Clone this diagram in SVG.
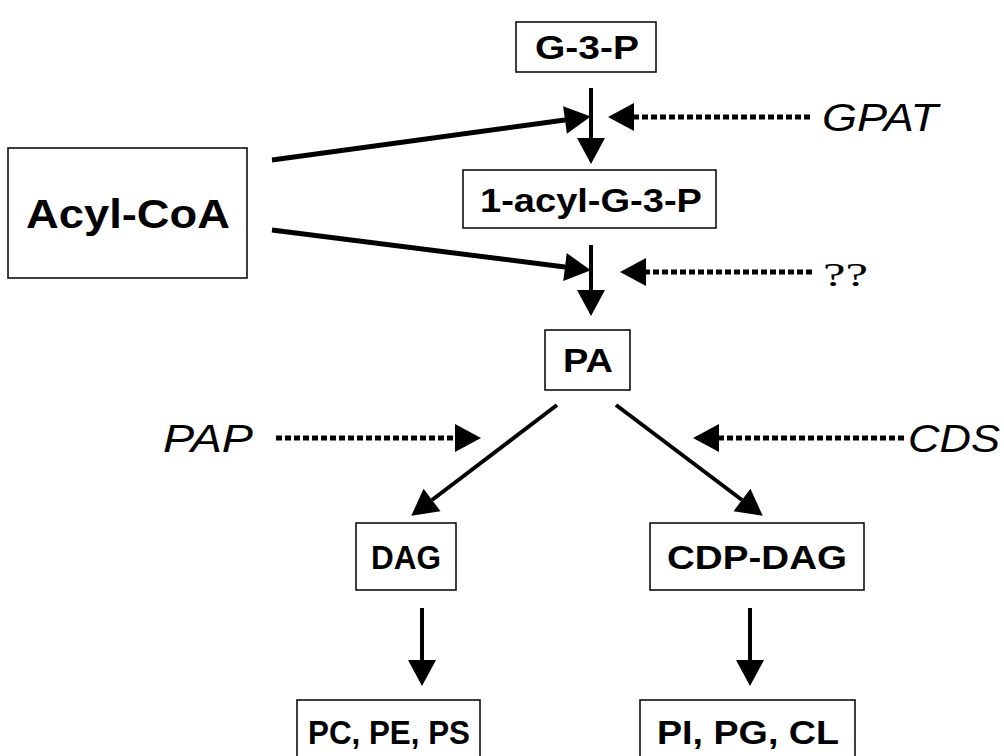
<svg xmlns="http://www.w3.org/2000/svg" width="1004" height="756" viewBox="0 0 1004 756">
<defs>
<marker id="ah" markerUnits="userSpaceOnUse" markerWidth="26" markerHeight="30" refX="0" refY="15" orient="auto" overflow="visible">
<path d="M0,1 L26,15 L0,29 z" fill="#000"/>
</marker>
<style>
.box{fill:#fff;stroke:#000;stroke-width:1.5}
.lbl{font-family:"Liberation Sans",Arial,sans-serif;font-weight:bold;fill:#000;text-anchor:middle;font-size:33px}
.enz{font-family:"Liberation Sans",Arial,sans-serif;font-style:italic;fill:#000;font-size:38px}
.solid{stroke:#000;stroke-width:5;fill:none}
.thin{stroke:#000;stroke-width:4;fill:none}
.dot{stroke:#000;stroke-width:5;fill:none;stroke-dasharray:6 3}
</style>
</defs>
<rect width="1004" height="756" fill="#fff"/>
<g id="connectors">
<line class="thin" x1="591" y1="88" x2="591" y2="138" marker-end="url(#ah)"/>
<line class="solid" x1="272" y1="160" x2="565" y2="120" marker-end="url(#ah)"/>
<line class="dot" x1="810" y1="117" x2="634" y2="117" marker-end="url(#ah)"/>
<line class="thin" x1="591" y1="245" x2="591" y2="290" marker-end="url(#ah)"/>
<line class="solid" x1="272" y1="230" x2="565" y2="267" marker-end="url(#ah)"/>
<line class="dot" x1="812" y1="272" x2="646" y2="272" marker-end="url(#ah)"/>
<line class="thin" x1="557" y1="405" x2="432" y2="500" marker-end="url(#ah)"/>
<line class="thin" x1="616" y1="405" x2="742" y2="500" marker-end="url(#ah)"/>
<line class="dot" x1="276" y1="438" x2="455" y2="438" marker-end="url(#ah)"/>
<line class="dot" x1="904" y1="438" x2="719" y2="438" marker-end="url(#ah)"/>
<line class="thin" x1="422" y1="608" x2="422" y2="660" marker-end="url(#ah)"/>
<line class="thin" x1="750" y1="608" x2="750" y2="660" marker-end="url(#ah)"/>
</g>
<g id="g3p"><rect class="box" x="516" y="22" width="140" height="50"/><text class="lbl" x="587" y="59" textLength="104" lengthAdjust="spacingAndGlyphs">G-3-P</text></g>
<g id="acylcoa"><rect class="box" x="8" y="148" width="239" height="130"/><text class="lbl" x="128" y="228" style="font-size:41px" textLength="204" lengthAdjust="spacingAndGlyphs">Acyl-CoA</text></g>
<g id="acylg3p"><rect class="box" x="463" y="170" width="253" height="58"/><text class="lbl" x="591" y="212" textLength="222" lengthAdjust="spacingAndGlyphs">1-acyl-G-3-P</text></g>
<g id="pa"><rect class="box" x="545" y="330" width="85" height="60"/><text class="lbl" x="588" y="372" textLength="50" lengthAdjust="spacingAndGlyphs">PA</text></g>
<g id="dag"><rect class="box" x="356" y="523" width="100" height="67"/><text class="lbl" x="406" y="569" textLength="70" lengthAdjust="spacingAndGlyphs">DAG</text></g>
<g id="cdpdag"><rect class="box" x="650" y="523" width="214" height="67"/><text class="lbl" x="757" y="569" textLength="180" lengthAdjust="spacingAndGlyphs">CDP-DAG</text></g>
<g id="pcpeps"><rect class="box" x="297" y="700" width="183" height="70"/><text class="lbl" x="389" y="744" textLength="162" lengthAdjust="spacingAndGlyphs">PC, PE, PS</text></g>
<g id="pipgcl"><rect class="box" x="640" y="700" width="215" height="70"/><text class="lbl" x="748" y="744" textLength="182" lengthAdjust="spacingAndGlyphs">PI, PG, CL</text></g>
<g id="gpat"><text class="enz" x="822" y="131" textLength="116" lengthAdjust="spacingAndGlyphs">GPAT</text></g>
<g id="unknown"><text x="823" y="286" font-family="'Liberation Serif','Times New Roman',serif" font-size="34" fill="#000" textLength="45" lengthAdjust="spacingAndGlyphs">??</text></g>
<g id="pap"><text class="enz" x="163" y="452" textLength="90" lengthAdjust="spacingAndGlyphs">PAP</text></g>
<g id="cds"><text class="enz" x="908" y="452" textLength="92" lengthAdjust="spacingAndGlyphs">CDS</text></g>
</svg>
